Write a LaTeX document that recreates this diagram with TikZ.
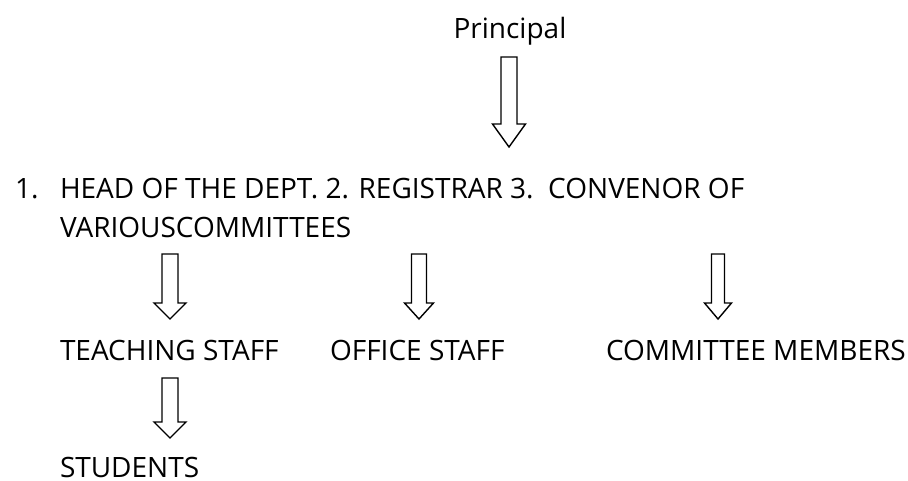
\documentclass[tikz,border=0pt]{standalone}
\usepackage{fontspec}
\setmainfont{Open Sans}
\newcommand\blockarr[6]{% cx, top, headstart, tip, shaft width, head width
  \draw[blockarrow] ({#1pt-#5pt/2},-#2pt) -- ({#1pt+#5pt/2},-#2pt) -- ({#1pt+#5pt/2},-#3pt)
    -- ({#1pt+#6pt/2},-#3pt) -- (#1pt,-#4pt) -- ({#1pt-#6pt/2},-#3pt) -- ({#1pt-#5pt/2},-#3pt) -- cycle;}
\begin{document}
\begin{tikzpicture}[x=1pt,y=1pt,
  lbl/.style={inner sep=0pt, outer sep=0pt, anchor=base west, text depth=0pt, font=\fontsize{28}{34}\selectfont},
  blockarrow/.style={draw=black, fill=white, line width=1.4pt, line join=miter}]
\useasboundingbox (0,0) rectangle (908,-481);
\node[lbl, anchor=base] (principal) at (510,-39) {Principal};
\node[lbl] (num) at (15,-199) {1.};
\node[lbl] (line1) at (60,-199) {HEAD OF THE DEPT. 2. REGISTRAR 3.\ \ CONVENOR OF};
\node[lbl] (line2) at (60,-238) {VARIOUSCOMMITTEES};
\node[lbl] (teach) at (60,-360) {TEACHING STAFF};
\node[lbl] (office) at (330,-360) {OFFICE STAFF};
\node[lbl] (comm) at (606,-360) {COMMITTEE MEMBERS};
\node[lbl] (stud) at (60,-477) {STUDENTS};
\blockarr{509}{57}{124}{147}{16}{33}
\blockarr{170}{254}{303}{319}{16}{32}
\blockarr{419}{254}{303}{319}{15}{29}
\blockarr{718}{254}{303}{319}{13}{27}
\blockarr{170}{378}{422}{438}{16}{32}
\end{tikzpicture}
\end{document}
